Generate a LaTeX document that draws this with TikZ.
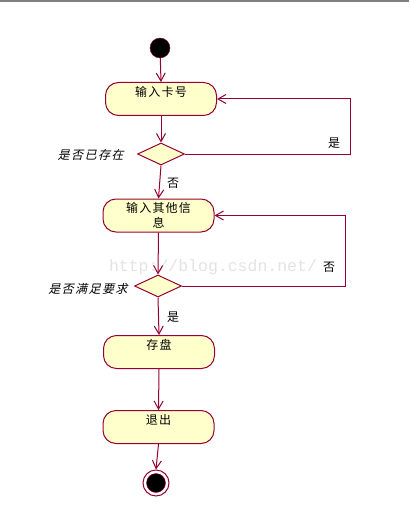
\documentclass[tikz,border=0pt]{standalone}
\usepackage{fontspec}
\newfontfamily\cjk[LetterSpace=10]{Noto Sans CJK SC}
\newfontfamily\cjkit[LetterSpace=12,FakeSlant=0.25]{Noto Sans CJK SC}
\newfontfamily\wmark{Liberation Mono}
\usetikzlibrary{shapes.geometric,arrows.meta}
\definecolor{umlline}{RGB}{150,0,50}
\definecolor{umlfill}{RGB}{255,255,204}
\newcommand{\uptext}[1]{\raisebox{2.5pt}[0pt][0pt]{#1}}
\begin{document}
\begin{tikzpicture}[x=1pt,y=-1pt,
		act/.style={draw=umlline,fill=umlfill,line width=1pt,rounded corners=13pt,minimum width=111pt,minimum height=33pt,inner sep=1pt,text width=100pt,align=center,font=\fontsize{12}{15}\cjk},
		choice/.style={draw=umlline,fill=umlfill,line width=1pt,diamond,minimum width=47pt,minimum height=22pt,inner sep=0pt},
		flow/.style={draw=umlline,line width=1pt,-{Straight Barb[length=8pt,width=9pt]}},
		lbl/.style={font=\fontsize{12}{14}\cjk},
		qlbl/.style={anchor=east,font=\fontsize{12}{14}\cjkit}]
			\useasboundingbox (0,0) rectangle (409,513);
			\draw[line width=2pt,gray] (0,1) -- (409,1);
			% watermark
			\node[text=gray!22,font=\fontsize{16.5}{18}\wmark] (mark) at (213,267) {http://blog.csdn.net/};
			% start and end
			\node[circle,draw=umlline,fill=black,minimum size=20pt,inner sep=0pt] (start) at (160,48) {};
			\node[circle,draw=umlline,fill=white,line width=1pt,minimum size=26pt,inner sep=0pt] (stop) at (156,483) {};
			\node[circle,draw=umlline,fill=black,minimum size=19pt,inner sep=0pt] (stopin) at (156,483) {};
			% activities
			\node[act] (card) at (161,99) {\uptext{输入卡号}};
			\node[act] (info) at (158.5,215.5) {输入其他信\\息};
			\node[act] (save) at (159,352) {\uptext{存盘}};
			\node[act] (quit) at (158.5,427) {\uptext{退出}};
			% decisions
			\node[choice] (exist) at (161,154) {};
			\node[choice] (meet) at (158,286) {};
			\node[qlbl] (qexist) at (127,155) {是否已存在};
			\node[qlbl] (qmeet) at (131,289) {是否满足要求};
			\node[lbl] (yes1) at (334,143) {是};
			\node[lbl] (no1) at (173,183) {否};
			\node[lbl] (no2) at (329,267) {否};
			\node[lbl] (yes2) at (173,317) {是};
			% flows
			\draw[flow] (start) -- (card.north);
			\draw[flow] (card.south) -- (exist.north);
			\draw[flow] (exist.east) -- ++(165,0) |- (card.east);
			\draw[flow] (exist.south) -- (info.north);
			\draw[flow] (info.south) -- (meet.north);
			\draw[flow] (meet.east) -- ++(163,0) |- (info.east);
			\draw[flow] (meet.south) -- (save.north);
			\draw[flow] (save.south) -- (quit.north);
			\draw[flow] (quit.south) -- (stop.north);
		\end{tikzpicture}
\end{document}
